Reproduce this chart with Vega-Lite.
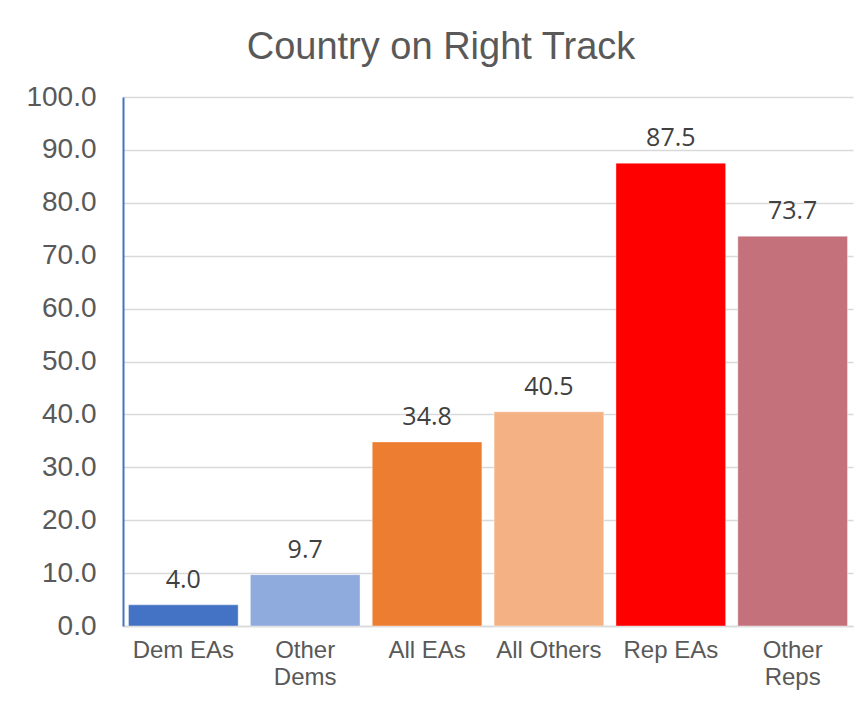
{
  "$schema": "https://vega.github.io/schema/vega-lite/v6.json",
  "width": 730,
  "height": 529,
  "autosize": {"type": "none"},
  "padding": {"left": 123, "top": 97, "right": 14, "bottom": 75},
  "background": "white",
  "title": {
    "text": "Country on Right Track",
    "font": "Liberation Sans",
    "fontSize": 38,
    "fontWeight": "normal",
    "color": "#595959",
    "anchor": "middle",
    "frame": "group",
    "dx": -47,
    "offset": -14,
    "baseline": "alphabetic"
  },
  "data": {
    "values": [
      {"group": "Dem EAs", "pct": 4.0, "color": "#4472C4"},
      {"group": "Other Dems", "pct": 9.7, "color": "#8FAADC"},
      {"group": "All EAs", "pct": 34.8, "color": "#ED7D31"},
      {"group": "All Others", "pct": 40.5, "color": "#F4B183"},
      {"group": "Rep EAs", "pct": 87.5, "color": "#FF0000"},
      {"group": "Other Reps", "pct": 73.7, "color": "#C4717B"}
    ]
  },
  "encoding": {
    "x": {
      "field": "group",
      "type": "nominal",
      "sort": null,
      "scale": {"paddingInner": 0.1, "paddingOuter": 0.045},
      "axis": {
        "title": null,
        "labelAngle": 0,
        "labelFont": "Liberation Sans",
        "labelFontSize": 24,
        "labelColor": "#595959",
        "labelPadding": 12,
        "labelLineHeight": 27,
        "labelBaseline": "top",
        "labelExpr": "indexof(datum.value, 'Other ') == 0 ? split(datum.value, ' ') : datum.value",
        "ticks": false,
        "domainColor": "#D9D9D9",
        "domainWidth": 1.5
      }
    },
    "y": {
      "field": "pct",
      "type": "quantitative",
      "scale": {"domain": [0, 100], "nice": false},
      "axis": {
        "title": null,
        "values": [0, 10, 20, 30, 40, 50, 60, 70, 80, 90, 100],
        "format": ".1f",
        "labelFont": "Liberation Sans",
        "labelFontSize": 28,
        "labelColor": "#595959",
        "labelPadding": 27,
        "ticks": false,
        "domainColor": "#4472C4",
        "domainWidth": 2,
        "gridColor": "#D9D9D9",
        "gridWidth": 1.5
      }
    }
  },
  "layer": [
    {
      "mark": {"type": "bar", "stroke": "white", "strokeOpacity": 0.4, "strokeWidth": 1},
      "encoding": {
        "color": {"field": "color", "type": "nominal", "scale": null, "legend": null}
      }
    },
    {
      "mark": {
        "type": "text",
        "font": "Open Sans",
        "fontSize": 25,
        "color": "#404040",
        "baseline": "alphabetic",
        "dy": -17
      },
      "encoding": {
        "text": {"field": "pct", "type": "quantitative", "format": ".1f"}
      }
    }
  ],
  "config": {
    "view": {"stroke": null}
  }
}
